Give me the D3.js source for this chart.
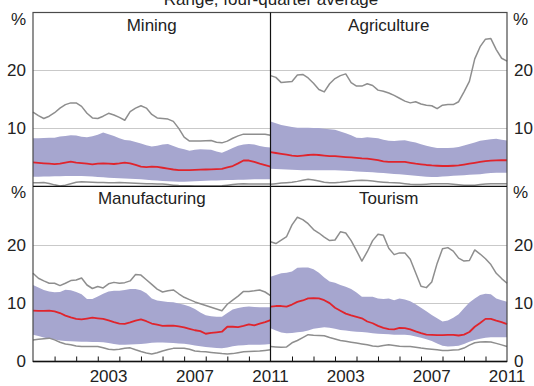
<!DOCTYPE html>
<html>
<head>
<meta charset="utf-8">
<script src="https://cdn.jsdelivr.net/npm/d3@7"></script>
<style>
  body { margin: 0; background: #fff; }
  svg { display: block; font-family: "Liberation Sans", Arial, Helvetica, sans-serif; }
</style>
</head>
<body>
<svg id="chart" width="534" height="386"></svg>
<script>
// Quarterly observations, 2000 Q1 onwards (four-quarter averages, per cent)
const startYear = 2000;
const endYear = 2011;
const yearTicks = [2001, 2002, 2003, 2004, 2005, 2006, 2007, 2008, 2009, 2010];
const yearLabels = [2003, 2007, 2011];
const yTicksTop = [10, 20];
const yTicksBottom = [0, 10, 20];
const chartTitle = "Range, four-quarter average";
const panelNames = ["Mining", "Agriculture", "Manufacturing", "Tourism"];

// Mining
const miningMax = [12.8,12.2,11.7,12.1,12.7,13.5,14.1,14.4,14.4,13.8,12.6,11.8,11.7,12.1,12.6,12.3,11.9,11.4,12.9,13.5,13.9,13.5,12.4,11.8,11.7,11.6,11.2,10.0,8.5,7.8,7.8,7.8,7.85,7.9,7.6,7.5,7.8,8.3,8.7,9.0,9.0,9.0,9.0,9.0,8.8];
const miningHigh = [8.3,8.3,8.35,8.4,8.4,8.6,8.7,8.8,8.75,8.55,8.45,8.65,8.9,9.3,9.0,8.7,8.3,8.0,7.9,7.65,7.4,7.1,6.85,7.0,7.2,7.3,6.95,6.6,6.4,6.15,6.3,6.4,6.35,6.3,6.0,5.8,6.2,6.6,7.0,7.2,7.3,7.2,6.95,6.8,6.7];
const miningMedian = [4.14,4.05,3.97,3.9,3.82,3.9,4.1,4.25,4.1,4.0,3.9,3.8,3.9,3.97,3.9,3.85,3.95,4.08,3.97,3.7,3.4,3.3,3.38,3.35,3.2,3.05,2.9,2.8,2.8,2.8,2.85,2.88,2.9,2.93,2.96,3.0,3.25,3.5,3.95,4.45,4.45,4.2,3.9,3.65,3.4];
const miningLow = [1.65,1.66,1.68,1.7,1.72,1.74,1.76,1.78,1.78,1.76,1.72,1.68,1.62,1.55,1.48,1.42,1.38,1.36,1.32,1.26,1.2,1.12,1.05,0.98,0.92,0.86,0.82,0.8,0.8,0.82,0.86,0.9,0.94,0.98,1.02,1.06,1.09,1.1,1.12,1.15,1.18,1.2,1.2,1.2,1.2];
const miningMin = [0.63,0.63,0.65,0.5,0.25,0.06,0.2,0.45,0.7,0.8,0.75,0.7,0.65,0.65,0.63,0.62,0.65,0.62,0.57,0.52,0.48,0.45,0.42,0.4,0.38,0.3,0.2,0.12,0.1,0.08,0.07,0.06,0.06,0.06,0.06,0.1,0.2,0.3,0.4,0.42,0.4,0.4,0.4,0.4,0.4];

// Agriculture
const agricultureMax = [19.1,18.8,17.9,18.0,18.1,19.2,19.3,18.7,17.8,16.7,16.3,17.7,18.6,19.1,19.4,17.9,17.3,17.3,17.7,17.4,16.6,16.4,16.1,15.7,15.2,14.7,14.4,14.6,14.2,14.0,13.9,13.4,14.0,14.1,14.1,14.6,16.3,18.1,22.0,24.1,25.4,25.5,23.6,22.1,21.6];
const agricultureHigh = [11.2,10.9,10.6,10.4,10.25,10.1,10.1,10.1,10.05,10.05,9.95,9.85,9.75,9.45,9.15,8.8,8.4,8.35,8.45,8.4,8.3,8.05,7.85,7.8,7.9,7.95,7.75,7.55,7.25,7.0,6.8,6.6,6.6,6.6,6.65,6.8,7.05,7.3,7.55,7.85,8.0,8.1,8.2,8.05,7.9];
const agricultureMedian = [5.9,5.75,5.6,5.45,5.3,5.22,5.3,5.4,5.45,5.4,5.3,5.22,5.2,5.12,5.05,5.0,4.92,4.82,4.77,4.65,4.5,4.3,4.2,4.2,4.2,4.2,4.05,3.9,3.8,3.68,3.6,3.55,3.5,3.5,3.55,3.6,3.75,3.9,4.05,4.2,4.35,4.42,4.48,4.5,4.5];
const agricultureLow = [3.05,3.0,2.95,2.9,2.85,2.8,2.78,2.76,2.76,2.76,2.76,2.76,2.76,2.72,2.68,2.62,2.55,2.5,2.47,2.42,2.35,2.28,2.2,2.12,2.07,2.0,1.9,1.8,1.72,1.66,1.6,1.62,1.68,1.75,1.8,1.85,1.92,1.98,2.02,2.1,2.2,2.3,2.36,2.36,2.36];
const agricultureMin = [0.35,0.45,0.55,0.63,0.7,0.85,1.05,1.2,1.1,0.9,0.7,0.63,0.63,0.7,0.8,0.9,1.0,1.03,1.0,0.9,0.8,0.72,0.65,0.63,0.55,0.45,0.35,0.3,0.3,0.35,0.42,0.46,0.46,0.42,0.35,0.28,0.2,0.17,0.2,0.3,0.4,0.46,0.46,0.46,0.46];

// Manufacturing
const manufacturingMax = [15.1,14.25,13.8,13.4,13.4,13.0,13.4,13.85,13.96,14.3,13.1,12.5,12.85,12.6,13.3,13.55,13.4,13.5,13.8,14.9,14.8,14.0,13.2,12.4,11.9,12.1,12.25,11.6,11.0,10.6,10.2,9.9,9.6,9.3,9.0,8.7,9.8,10.5,11.2,12.0,12.0,12.1,12.25,11.9,11.3];
const manufacturingHigh = [13.1,12.65,12.25,12.0,11.85,11.9,12.3,12.2,11.9,11.5,10.7,10.7,11.15,11.6,12.0,12.1,12.1,12.25,12.4,12.4,12.2,11.7,10.8,10.45,10.3,10.2,10.15,9.95,9.7,9.4,9.0,8.4,7.9,7.75,7.65,7.65,8.3,8.9,9.15,9.35,9.4,9.35,9.3,9.3,9.3];
const manufacturingMedian = [8.7,8.66,8.66,8.7,8.6,8.3,7.85,7.55,7.3,7.2,7.35,7.5,7.4,7.3,7.05,6.75,6.5,6.45,6.7,7.0,7.2,6.9,6.5,6.3,6.1,6.12,6.15,6.0,5.85,5.6,5.35,5.2,4.75,4.9,5.0,5.1,5.95,5.95,5.9,6.1,6.35,6.2,6.5,6.75,7.1];
const manufacturingLow = [4.56,4.35,4.1,3.9,3.75,3.6,3.5,3.45,3.42,3.4,3.38,3.35,3.32,3.3,3.15,3.0,2.88,2.85,2.9,2.95,3.0,3.1,3.2,3.25,3.25,3.22,3.18,3.1,3.05,2.9,2.75,2.6,2.5,2.4,2.3,2.28,2.4,2.6,2.72,2.8,2.85,2.85,2.85,2.92,3.0];
const manufacturingMin = [3.7,3.8,3.9,4.0,3.7,3.3,3.0,2.85,2.65,2.56,2.56,2.56,2.56,2.35,2.1,2.0,2.1,2.25,2.34,2.0,1.7,1.45,1.3,1.5,1.8,2.05,2.25,2.28,2.28,2.1,1.8,1.7,1.65,1.55,1.45,1.35,1.3,1.35,1.5,1.65,1.7,1.75,1.8,1.9,2.0];

// Tourism
const tourismMax = [20.5,20.2,20.8,21.4,23.4,24.7,24.3,23.6,22.6,22.0,21.3,20.7,20.8,22.2,22.0,20.7,19.0,17.2,18.8,20.7,21.8,21.6,19.4,18.3,18.6,18.6,17.5,15.2,12.9,12.65,13.6,16.8,19.3,19.5,18.9,17.7,17.2,17.3,19.1,18.4,17.6,16.6,15.1,14.2,13.4];
const tourismHigh = [14.5,14.8,15.1,15.2,15.4,16.05,16.1,16.1,15.8,15.2,14.4,13.7,13.5,13.1,12.8,12.4,11.8,11.1,11.1,11.1,10.8,10.7,10.8,10.5,10.8,10.6,10.3,9.8,9.2,8.6,7.95,7.4,6.85,7.0,7.5,8.1,9.1,10.1,10.8,11.4,11.6,11.5,10.8,10.5,10.25];
const tourismMedian = [9.4,9.5,9.5,9.4,9.75,10.2,10.45,10.8,10.85,10.8,10.5,10.0,9.2,8.7,8.2,7.9,7.65,7.4,6.85,6.55,6.1,5.75,5.55,5.5,5.75,5.7,5.5,5.15,4.85,4.6,4.55,4.5,4.5,4.55,4.55,4.45,4.6,5.05,5.95,6.6,7.3,7.3,7.0,6.75,6.4];
const tourismLow = [5.7,5.3,4.95,4.84,4.9,5.0,5.1,5.3,5.6,5.75,5.85,5.8,5.6,5.4,5.3,5.2,5.1,5.05,4.95,4.85,4.75,4.7,4.65,4.6,4.58,4.56,4.5,4.3,4.05,3.8,3.5,3.1,2.7,2.56,2.6,2.7,3.0,3.4,3.7,3.9,4.05,4.15,4.16,4.16,4.16];
const tourismMin = [2.56,2.5,2.45,2.5,3.2,3.6,4.1,4.6,4.5,4.45,4.4,4.1,3.85,3.6,3.45,3.3,3.15,3.0,2.85,2.65,2.56,2.75,2.85,2.75,2.6,2.56,2.56,2.45,2.3,2.2,2.1,2.0,1.9,1.9,1.95,2.0,2.3,2.8,3.2,3.35,3.4,3.35,3.1,2.85,2.56];

const panelSeries = [
  { max: miningMax, high: miningHigh, median: miningMedian, low: miningLow, min: miningMin },
  { max: agricultureMax, high: agricultureHigh, median: agricultureMedian, low: agricultureLow, min: agricultureMin },
  { max: manufacturingMax, high: manufacturingHigh, median: manufacturingMedian, low: manufacturingLow, min: manufacturingMin },
  { max: tourismMax, high: tourismHigh, median: tourismMedian, low: tourismLow, min: tourismMin }
];

// Layout
const frameLeft = 33, frameMid = 270.5, frameRight = 507;
const frameTop = 12.5, frameMiddle = 186.3, frameBottom = 361.5;
const colours = { band: "#a6a6cf", median: "#e0242c", range: "#8e8e8e", grid: "#c9c9c9", frame: "#4a4a4a", axis: "#111" };
const fontSize = 17;

const svg = d3.select("#chart");

svg.append("text")
  .attr("x", 271).attr("y", 5)
  .attr("text-anchor", "middle")
  .attr("font-size", fontSize).attr("fill", "#222")
  .text(chartTitle);

const cells = [
  { x0: frameLeft, x1: frameMid, y0: frameTop, y1: frameMiddle, col: 0, row: 0 },
  { x0: frameMid, x1: frameRight, y0: frameTop, y1: frameMiddle, col: 1, row: 0 },
  { x0: frameLeft, x1: frameMid, y0: frameMiddle, y1: frameBottom, col: 0, row: 1 },
  { x0: frameMid, x1: frameRight, y0: frameMiddle, y1: frameBottom, col: 1, row: 1 }
];

const quarter = i => startYear + i * 0.25;

cells.forEach((c, k) => {
  const s = panelSeries[k];
  const x = d3.scaleLinear().domain([startYear, endYear]).range([c.x0, c.x1]);
  const y = d3.scaleLinear().domain([0, 30]).range([c.y1, c.y0]);
  const g = svg.append("g");

  // horizontal grid
  g.selectAll("line.grid").data(yTicksTop).join("line")
    .attr("x1", c.x0).attr("x2", c.x1)
    .attr("y1", d => Math.round(y(d)) + 0.5).attr("y2", d => Math.round(y(d)) + 0.5)
    .attr("stroke", colours.grid).attr("stroke-width", 1);

  const idx = d3.range(s.median.length);

  // band between the low and high readings
  const area = d3.area()
    .x(i => x(quarter(i)))
    .y0(i => y(s.low[i]))
    .y1(i => y(s.high[i]));
  g.append("path").attr("d", area(idx)).attr("fill", colours.band);

  const lineOf = arr => d3.line().x(i => x(quarter(i))).y(i => y(arr[i]))(idx);

  [s.max, s.min].forEach(arr => {
    g.append("path").attr("d", lineOf(arr))
      .attr("fill", "none").attr("stroke", colours.range)
      .attr("stroke-width", 1.5).attr("stroke-linejoin", "round");
  });

  g.append("path").attr("d", lineOf(s.median))
    .attr("fill", "none").attr("stroke", colours.median)
    .attr("stroke-width", 1.8).attr("stroke-linejoin", "round");

  // panel title
  svg.append("text")
    .attr("x", (c.x0 + c.x1) / 2).attr("y", c.y0 + 18)
    .attr("text-anchor", "middle")
    .attr("font-size", fontSize).attr("fill", "#222")
    .text(panelNames[k]);

  // value axis labels on the outer side
  const ticks = c.row === 0 ? yTicksTop : yTicksBottom;
  const axis = (c.col === 0 ? d3.axisLeft(y) : d3.axisRight(y))
    .tickValues(ticks).tickSize(0).tickPadding(7).tickFormat(d3.format("d"));
  const ax = svg.append("g")
    .attr("transform", `translate(${c.col === 0 ? frameLeft : frameRight},0)`)
    .call(axis);
  ax.select(".domain").remove();
  ax.selectAll("text").attr("font-size", fontSize).attr("fill", "#222")
    .attr("font-family", "Liberation Sans, Arial, sans-serif");

  svg.append("text")
    .attr("x", c.col === 0 ? frameLeft - 7 : frameRight + 6)
    .attr("y", c.y0 + 12)
    .attr("text-anchor", c.col === 0 ? "end" : "start")
    .attr("font-size", fontSize).attr("fill", "#222")
    .text("%");

  // year axis
  if (c.row === 1) {
    const xa = svg.append("g")
      .attr("transform", `translate(0,${frameBottom})`)
      .call(d3.axisBottom(x).tickValues(yearTicks).tickSize(-5).tickFormat(""));
    xa.select(".domain").remove();
    xa.selectAll("line").attr("stroke", colours.axis).attr("stroke-width", 1);

    svg.selectAll(null).data(yearLabels).enter().append("text")
      .attr("x", d => x(Math.min(d + 0.5, endYear)))
      .attr("y", 382)
      .attr("text-anchor", "middle")
      .attr("font-size", fontSize).attr("fill", "#222")
      .text(d => d);
  }
});

// frame
svg.append("rect")
  .attr("x", frameLeft).attr("y", frameTop)
  .attr("width", frameRight - frameLeft).attr("height", frameBottom - frameTop)
  .attr("fill", "none").attr("stroke", colours.frame).attr("stroke-width", 1.2);
svg.append("line")
  .attr("x1", frameMid).attr("x2", frameMid).attr("y1", frameTop).attr("y2", frameBottom)
  .attr("stroke", colours.axis).attr("stroke-width", 1.2);
svg.append("line")
  .attr("x1", frameLeft).attr("x2", frameRight).attr("y1", frameMiddle).attr("y2", frameMiddle)
  .attr("stroke", colours.axis).attr("stroke-width", 1.2);
svg.append("line")
  .attr("x1", frameLeft).attr("x2", frameRight).attr("y1", frameBottom).attr("y2", frameBottom)
  .attr("stroke", colours.axis).attr("stroke-width", 1.6);
</script>
</body>
</html>
